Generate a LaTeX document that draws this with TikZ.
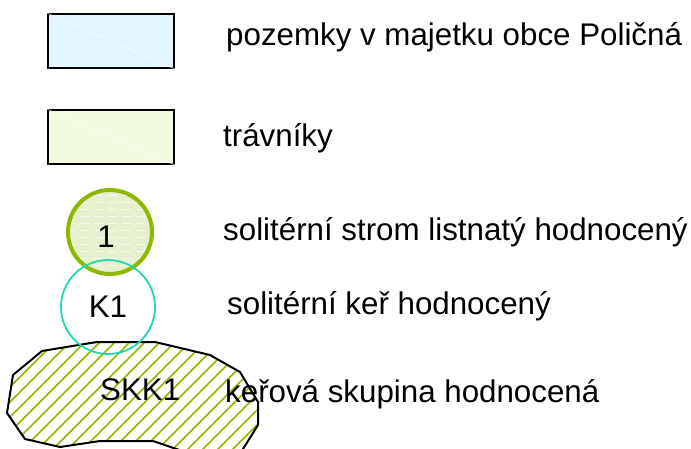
\documentclass[tikz,border=0pt]{standalone}
\usepackage{fontspec}
\setmainfont{Liberation Sans}
\usepackage{xcolor}
\definecolor{cParcel}{HTML}{E3F6FF}
\definecolor{cLawn}{HTML}{F2FADF}
\definecolor{cTree}{HTML}{8CB800}
\definecolor{cTreeFill}{HTML}{E6F0CE}
\definecolor{cShrub}{HTML}{20D8B0}
\definecolor{cHatch}{HTML}{8CB800}
\usepackage{tikz}
\newcommand\skkoutline{(42,351) -- (97,342) -- (155,342) -- (210,355)
  -- (240,372) -- (258,402) -- (258,425) -- (238,457) -- (200,457)
  -- (153,441) -- (100,441) -- (60,447) -- (25,439) -- (7,413)
  -- (13,375) -- cycle}
\tikzset{
  legend-box/.style={draw=black,line width=2pt,inner sep=0pt,
    minimum width=126pt,minimum height=54pt},
  legend-font/.style={font=\fontsize{31.3}{36}\selectfont},
  legend-text/.style={legend-font,anchor=base west,inner sep=0pt},
  node-tree/.style={circle,draw=cTree,line width=4pt,fill=cTreeFill,
    minimum size=84pt,inner sep=0pt},
  node-shrub/.style={circle,draw=cShrub,line width=1.8pt,
    minimum size=94pt,inner sep=0pt,legend-font},
  % keřová skupina: šrafování zeleně pod 45°
  shrub-group/.style={draw=black,line width=2pt,line join=round},
  hatch/.style={draw=cHatch,line width=1.6pt},
  box-diag/.style={draw=white,line width=0.6pt,opacity=0.8},
}
\begin{document}
\begin{tikzpicture}[x=1pt,y=-1pt]
  \useasboundingbox (0,0) rectangle (691,449);
  % boxes
  \node[legend-box,fill=cParcel] (pozemky) at (111,41) {};
  \node[legend-box,fill=cLawn] (travniky) at (111,137) {};
  \draw[box-diag] (pozemky.north west) -- (pozemky.south east);
  \draw[box-diag] (travniky.north west) -- (travniky.south east);
  % shrub group
  \begin{scope}
    \clip \skkoutline;
    \foreach \c in {352,367,...,727} {
      \draw[hatch] (\c-330,330) -- (\c-470,470);
    }
  \end{scope}
  \draw[shrub-group] \skkoutline;
  \node[legend-text] (skk) at (100,400) {SKK1};
  % tree
  \node[node-tree] (strom) at (110,232) {};
  \begin{scope}
    \clip (110,232) circle (40);
    \foreach \y in {195,202,...,272} {
      \draw[white,line width=0.6pt,opacity=0.7,dash pattern=on 9pt off 5pt]
        (66,\y) -- (156,\y);
    }
  \end{scope}
  \node[legend-font,inner sep=0pt] (stromlabel) at (106,237) {1};
  % shrub
  \node[node-shrub] (ker) at (108,307) {K1};
  % texts
  \node[legend-text] (t1) at (226,46) {pozemky v majetku obce Poličná};
  \node[legend-text] (t2) at (223,147) {trávníky};
  \node[legend-text] (t3) at (223,241) {solitérní strom listnatý hodnocený};
  \node[legend-text] (t4) at (227,314) {solitérní keř hodnocený};
  \node[legend-text] (t5) at (225,402) {keřová skupina hodnocená};
\end{tikzpicture}
\end{document}
